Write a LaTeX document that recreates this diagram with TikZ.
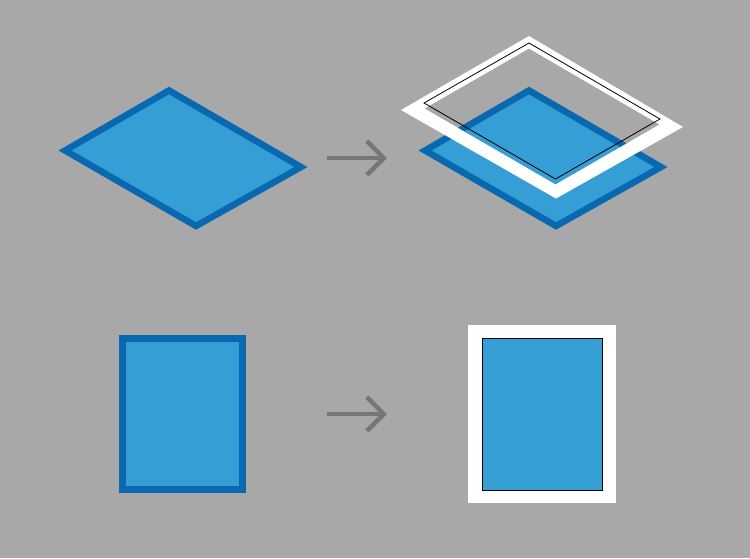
\documentclass[tikz,border=0pt]{standalone}
\usepackage{tikz}
\usetikzlibrary{arrows.meta}

\definecolor{bggray}{HTML}{A8A8A8}
\definecolor{arrgray}{HTML}{777777}
\definecolor{tilefill}{HTML}{359ED4}
\definecolor{tileedge}{HTML}{0868B0}

\tikzset{
  tile/.style={fill=tilefill, draw=tileedge, line width=6.5pt, line join=miter},
  framed/.style={fill=tilefill, draw=black, line width=0.8pt},
  mat/.style={fill=white, even odd rule},
  trace/.style={draw=black, line width=0.8pt, line join=miter},
  turn/.style={draw=arrgray, line width=4.5pt, -{Straight Barb[length=17pt,width=34pt,line cap=butt,line join=miter]}}
}

\begin{document}
\begin{tikzpicture}[x=1pt,y=-1pt]
  \useasboundingbox (0,0) rectangle (750,558);
  \fill[bggray] (0,0) rectangle (750,558);

  \coordinate (a1) at (327,158);
  \coordinate (b1) at (387,158);
  \coordinate (a2) at (327,414);
  \coordinate (b2) at (387,414);

% top left, plain tile
\path[tile] (169,90.5) -- (301,167) -- (196,226) -- (65,150.5) -- cycle;

% top right, tile with mat on top
\path[tile] (529,90.5) -- (661,167) -- (556,226) -- (425,150.5) -- cycle;
\path[mat] (529,36) -- (683,127) -- (556,198.5) -- (401,110) -- cycle
           (529,48.5) -- (659.5,124.5) -- (555.5,184.5) -- (424.5,108.5) -- cycle;
\path[trace] (529,43) -- (660,119) -- (555.5,179) -- (424,103) -- cycle;

% bottom left, plain tile
\path[tile] (122.5,338.5) rectangle (242.5,489.5);

% bottom right, tile in its mat
\fill[white] (468,325) rectangle (616,503);
\path[framed] (482,338) rectangle (602,490);

\draw[turn] (a1) -- (b1); % upper arrow
\draw[turn] (a2) -- (b2); % lower arrow

\end{tikzpicture}
\end{document}
